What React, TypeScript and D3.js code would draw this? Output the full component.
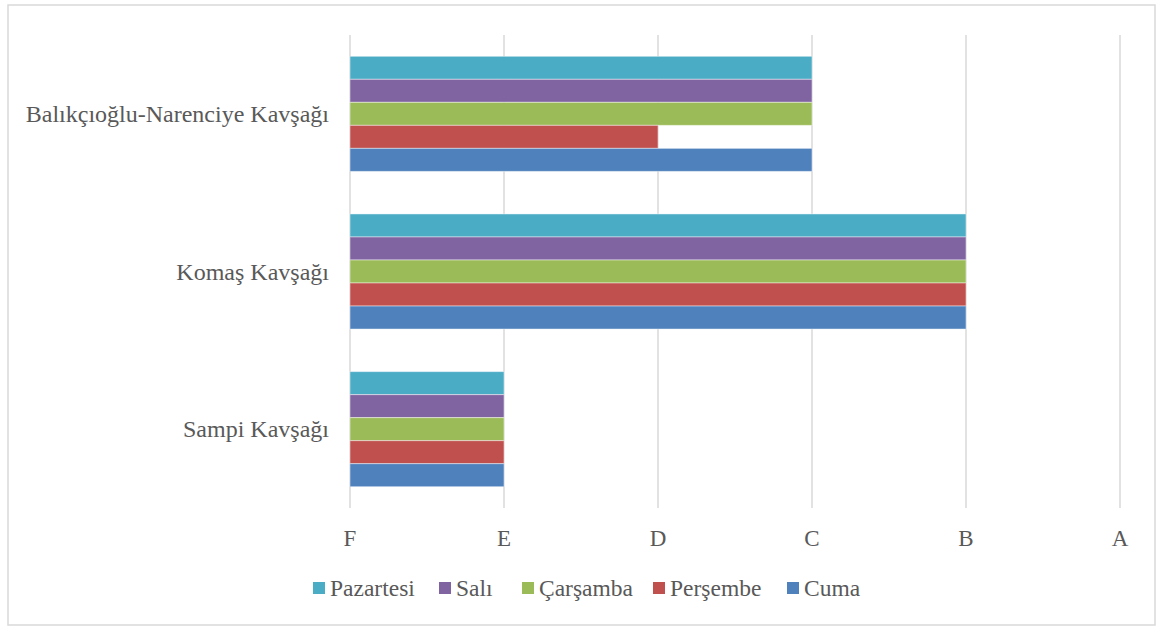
import React from 'react';
import * as d3 from 'd3';

const categories = ['Balıkçıoğlu-Narenciye Kavşağı', 'Komaş Kavşağı', 'Sampi Kavşağı'];
const seriesNames = ['Pazartesi', 'Salı', 'Çarşamba', 'Perşembe', 'Cuma'];
const seriesColors = ['#4BACC6', '#8064A2', '#9BBB59', '#C0504D', '#4F81BD'];
const pazartesi = [3, 4, 1];
const sali = [3, 4, 1];
const carsamba = [3, 4, 1];
const persembe = [2, 4, 1];
const cuma = [3, 4, 1];
const seriesValues = [pazartesi, sali, carsamba, persembe, cuma];
const gradeLabels = ['F', 'E', 'D', 'C', 'B', 'A'];

const W = 1157;
const H = 626;
const plot = { left: 350, right: 1120, top: 35, bottom: 508 };
const FONT = '"Liberation Serif", "Times New Roman", serif';
const TEXT = '#595959';
const GRID = '#d9d9d9';

export default function App() {
  const x = d3.scaleLinear().domain([0, gradeLabels.length - 1]).range([plot.left, plot.right]);
  const y = d3.scaleBand<string>().domain(categories).range([plot.top, plot.bottom]);
  const step = y.step();
  const gap = 0.37;
  const groupH = step / (1 + gap);
  const inner = d3.scaleBand<string>().domain(seriesNames).range([0, groupH]);
  const ticks = d3.range(gradeLabels.length);
  const legendX = [313, 439, 522, 653, 787];

  return (
    <svg width={W} height={H} style={{ position: 'absolute', left: 0, top: 0, background: '#fff' }}>
      <rect x={8} y={5} width={1147} height={620} fill="#fff" stroke={GRID} strokeWidth={1.5} />
      {ticks.map((t) => (
        <line key={'g' + t} x1={x(t)} x2={x(t)} y1={plot.top} y2={plot.bottom} stroke={GRID} strokeWidth={1.5} />
      ))}
      {categories.map((c, ci) => {
        const y0 = (y(c) as number) + (step - groupH) / 2;
        return (
          <g key={c}>
            {seriesNames.map((s, si) => (
              <rect
                key={s}
                x={x(0)}
                y={y0 + (inner(s) as number)}
                width={x(seriesValues[si][ci]) - x(0)}
                height={inner.bandwidth()}
                fill={seriesColors[si]}
                stroke="rgba(255,255,255,0.45)"
                strokeWidth={1}
              />
            ))}
            <text
              x={plot.left - 21}
              y={(y(c) as number) + step / 2}
              textAnchor="end"
              dominantBaseline="central"
              fontFamily={FONT}
              fontSize={24}
              fill={TEXT}
            >
              {c}
            </text>
          </g>
        );
      })}
      {ticks.map((t) => (
        <text key={'t' + t} x={x(t)} y={546} textAnchor="middle" fontFamily={FONT} fontSize={23} fill={TEXT}>
          {gradeLabels[t]}
        </text>
      ))}
      {seriesNames.map((s, si) => (
        <g key={'l' + s} transform={`translate(${legendX[si]},0)`}>
          <rect x={0} y={582} width={12} height={12} fill={seriesColors[si]} />
          <text x={17} y={596} fontFamily={FONT} fontSize={23.5} fill={TEXT}>
            {s}
          </text>
        </g>
      ))}
    </svg>
  );
}
